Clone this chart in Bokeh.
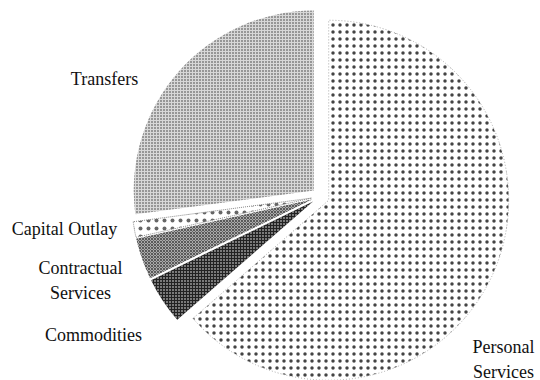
import math
from bokeh.plotting import figure
from bokeh.models import ColumnDataSource, Range1d
from bokeh.core.properties import value
from bokeh.embed import file_html
from bokeh.resources import INLINE

categories = ["Transfers", "Capital Outlay", "Contractual Services", "Commodities", "Personal Services"]
shares = [27.1, 1.4, 3.7, 4.2, 63.6]

label_lines = [["Transfers"], ["Capital Outlay"], ["Contractual", "Services"], ["Commodities"], ["Personal", "Services"]]
label_pos = [(104, 302), (64, 152), (80, 113), (93, 46), (503, 34)]

W, H = 540, 380
p = figure(width=W, height=H, output_backend="svg", toolbar_location=None,
           x_range=Range1d(0, W), y_range=Range1d(0, H), min_border=0)
p.axis.visible = False
p.grid.visible = False
p.outline_line_color = None
p.background_fill_color = "white"
p.border_fill_color = "white"

cx, cy, r, explode = 320, 184, 180, 9
styles = [
    dict(fill_color="#d8d8d8", hatch_pattern="dot", hatch_color="#333333", hatch_scale=3, hatch_weight=0.8, line_color=None),
    dict(fill_color="white", hatch_pattern="dot", hatch_color="#666666", hatch_scale=8, hatch_weight=0.1, line_color="#888888", line_dash="1 1", line_width=1),
    dict(fill_color="#aaaaaa", hatch_pattern="diagonal_cross", hatch_color="#444444", hatch_scale=3, hatch_weight=0.8, line_color=None),
    dict(fill_color="#222222", hatch_pattern="dot", hatch_color="#ffffff", hatch_scale=3, hatch_weight=1.6, line_color=None),
    dict(fill_color="white", hatch_pattern="dot", hatch_color="#444444", hatch_scale=7, hatch_weight=0.1, line_color="#aaaaaa", line_dash="1 2", line_width=1),
]

total = sum(shares)
start = math.pi / 2
for i, s in enumerate(shares):
    span = 2 * math.pi * s / total
    end = start + span
    mid = (start + end) / 2
    ox, oy = cx + explode * math.cos(mid), cy + explode * math.sin(mid)
    src = ColumnDataSource(dict(x=[ox], y=[oy], s=[start], e=[end]))
    p.wedge(x="x", y="y", radius=r, start_angle="s", end_angle="e", source=src, **styles[i])
    start = end

for lines, (lx, ly) in zip(label_lines, label_pos):
    for j, t in enumerate(lines):
        p.text(x=[lx], y=[ly - j * 25], text=[t], text_align="center", text_baseline="alphabetic",
               text_font=value("Liberation Serif"), text_font_size="18px", text_color="#111111")

open("out.html", "w").write(file_html(p, INLINE))
